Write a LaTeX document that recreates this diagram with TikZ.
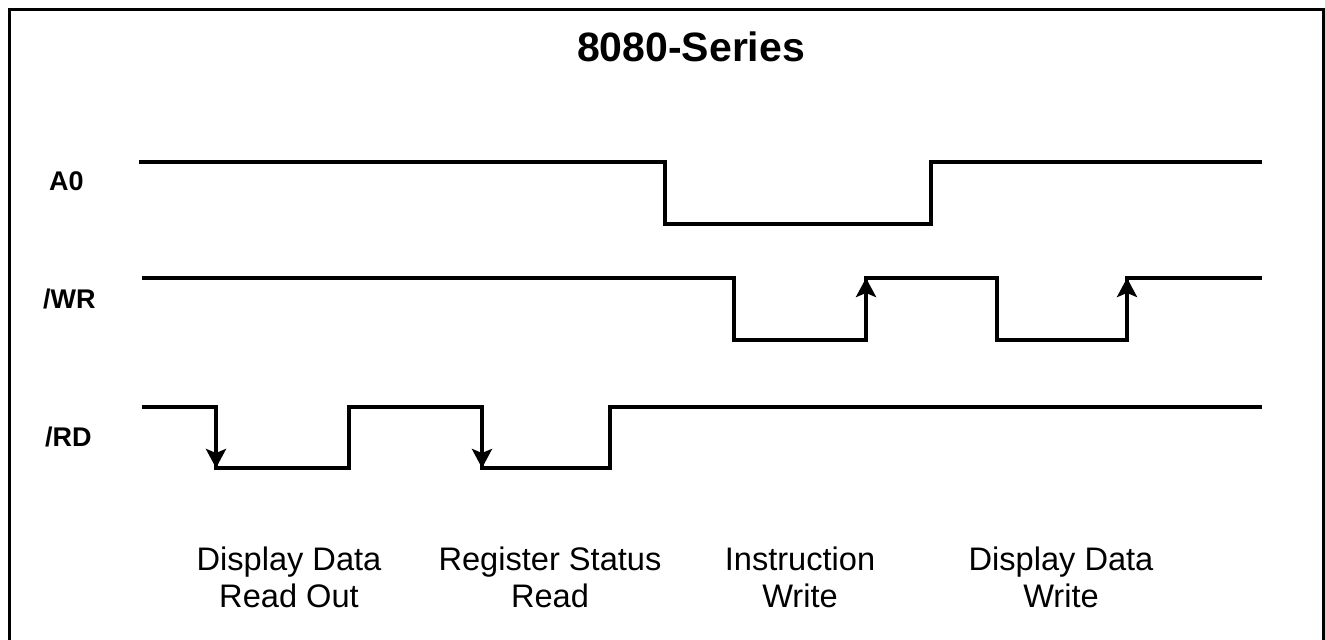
\documentclass[tikz,border=0pt]{standalone}
\usepackage{fontspec}
\setmainfont{Liberation Sans}
\usetikzlibrary{arrows.meta}

\begin{document}
\begin{tikzpicture}[x=0.5pt, y=-0.5pt,
    signal/.style={line width=2pt, line join=miter},
    edge/.style={signal, -{Stealth[length=9.5pt, width=10pt, inset=2pt]}},
    siglabel/.style={font=\bfseries\fontsize{13.5}{16}\selectfont, anchor=west},
    phase/.style={font=\fontsize{16.3}{18.5}\selectfont, align=center}]
    \useasboundingbox (0,0) rectangle (1325,640);
    \draw [line width=1.5pt] (9,642) -- (9,10) -- (1323,10) -- (1323,642);
    \node (title) [font=\bfseries\fontsize{20.5}{24}\selectfont] at (691,47) {8080-Series};

    \coordinate (a1) at (139,162);
    \coordinate (a2) at (665,162);
    \coordinate (a3) at (665,224);
    \coordinate (a4) at (931,224);
    \coordinate (a5) at (931,162);
    \coordinate (a6) at (1262,162);

    \coordinate (w1) at (142,278);
    \coordinate (w2) at (734,278);
    \coordinate (w3) at (734,340);
    \coordinate (w4) at (866,340);
    \coordinate (w5) at (866,278);
    \coordinate (w6) at (997,278);
    \coordinate (w7) at (997,340);
    \coordinate (w8) at (1127,340);
    \coordinate (w9) at (1127,278);
    \coordinate (w10) at (1262,278);

    \coordinate (r1) at (142,407);
    \coordinate (r2) at (216,407);
    \coordinate (r3) at (216,468);
    \coordinate (r4) at (349,468);
    \coordinate (r5) at (349,407);
    \coordinate (r6) at (482,407);
    \coordinate (r7) at (482,468);
    \coordinate (r8) at (610,468);
    \coordinate (r9) at (610,407);
    \coordinate (r10) at (1262,407);

    \node (lblA) [siglabel] at (42,181) {A0};
    \node (lblW) [siglabel] at (36,299) {/WR};
    \node (lblR) [siglabel] at (38,437) {/RD};

    \draw [signal] (a1) -- (a2) -- (a3) -- (a4) -- (a5) -- (a6);
    \draw [signal] (w1) -- (w2) -- (w3) -- (w4) -- (w5) -- (w6) -- (w7) -- (w8) -- (w9) -- (w10);
    \draw [signal] (r1) -- (r2) -- (r3) -- (r4) -- (r5) -- (r6) -- (r7) -- (r8) -- (r9) -- (r10);
    \draw [edge] (w4) -- (w5);
    \draw [edge] (w8) -- (w9);
    \draw [edge] (r2) -- (r3);
    \draw [edge] (r6) -- (r7);

    \node (ph1) [phase] at (289,577) {Display Data\\Read Out};
    \node (ph2) [phase] at (550,577) {Register Status\\Read};
    \node (ph3) [phase] at (800,577) {Instruction\\Write};
    \node (ph4) [phase] at (1061,577) {Display Data\\Write};
\end{tikzpicture}
\end{document}
